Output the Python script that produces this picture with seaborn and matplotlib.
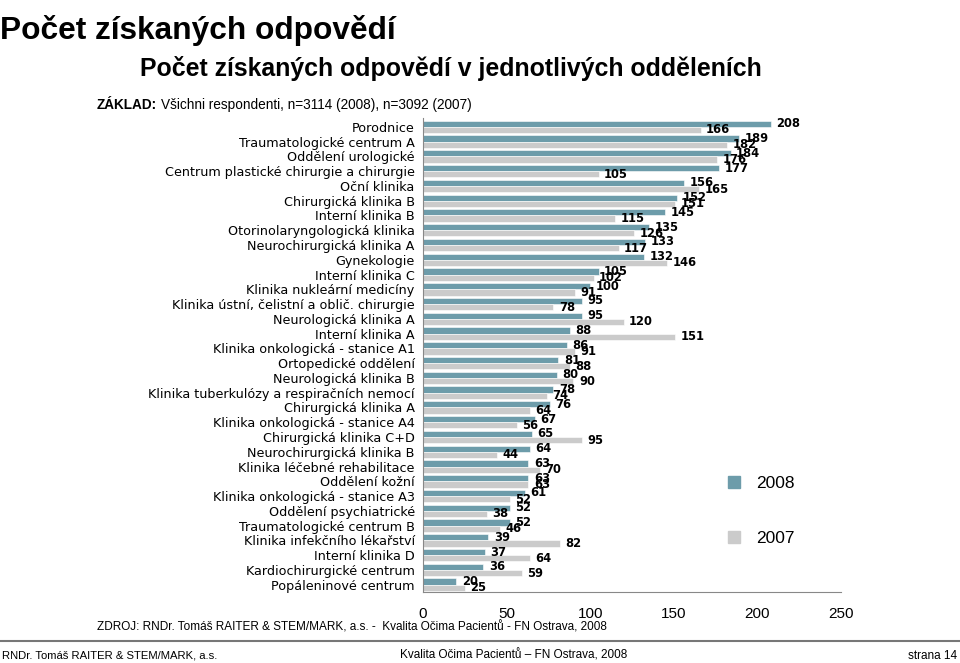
import numpy as np
import pandas as pd
import matplotlib.pyplot as plt
import seaborn as sns
from matplotlib.lines import Line2D

departments = [
    "Porodnice", "Traumatologické centrum A", "Oddělení urologické",
    "Centrum plastické chirurgie a chirurgie", "Oční klinika", "Chirurgická klinika B",
    "Interní klinika B", "Otorinolaryngologická klinika", "Neurochirurgická klinika A",
    "Gynekologie", "Interní klinika C", "Klinika nukleární medicíny",
    "Klinika ústní, čelistní a oblič. chirurgie", "Neurologická klinika A",
    "Interní klinika A", "Klinika onkologická - stanice A1", "Ortopedické oddělení",
    "Neurologická klinika B", "Klinika tuberkulózy a respiračních nemocí",
    "Chirurgická klinika A", "Klinika onkologická - stanice A4", "Chirurgická klinika C+D",
    "Neurochirurgická klinika B", "Klinika léčebné rehabilitace", "Oddělení kožní",
    "Klinika onkologická - stanice A3", "Oddělení psychiatrické",
    "Traumatologické centrum B", "Klinika infekčního lékařství", "Interní klinika D",
    "Kardiochirurgické centrum", "Popáleninové centrum",
]
counts_2008 = [208, 189, 184, 177, 156, 152, 145, 135, 133, 132, 105, 100, 95, 95, 88, 86,
               81, 80, 78, 76, 67, 65, 64, 63, 63, 61, 52, 52, 39, 37, 36, 20]
counts_2007 = [166, 182, 176, 105, 165, 151, 115, 126, 117, 146, 102, 91, 78, 120, 151, 91,
               88, 90, 74, 64, 56, 95, 44, 70, 63, 52, 38, 46, 82, 64, 59, 25]
years = ["2008", "2007"]
x_ticks = [0, 50, 100, 150, 200, 250]

df = pd.DataFrame({
    "oddeleni": departments * 2,
    "rok": ["2008"] * len(departments) + ["2007"] * len(departments),
    "pocet": counts_2008 + counts_2007,
})

sns.set_style("white")
plt.rcParams['font.family'] = ['DejaVu Sans']
plt.rcParams['text.color'] = 'black'
plt.rcParams['xtick.color'] = 'black'
plt.rcParams['ytick.color'] = 'black'
lib = ['Liberation Sans', 'DejaVu Sans']
colors = {"2008": "#6d9caa", "2007": "#cbcbcb"}

fig = plt.figure(figsize=(9.6, 6.63), dpi=100)
ax = fig.add_axes([0.4406, 0.107, 0.4354, 0.715])

sns.barplot(data=df, y="oddeleni", x="pocet", hue="rok", hue_order=years,
            palette=colors, orient="h", width=0.84, ax=ax, legend=False,
            saturation=1, edgecolor="white", linewidth=0.4)

# popisky hodnot za konec sloupce
for cont in ax.containers:
    ax.bar_label(cont, padding=4, fontsize=8.3, fontweight="bold", color="black")

ax.set_xlim(0, 250)
ax.set_ylim(len(departments) - 0.5, -0.6)
ax.set_xticks(x_ticks)
ax.set_xticklabels([str(t) for t in x_ticks], fontsize=11, family=lib)
ax.set_xlabel("")
ax.set_ylabel("")
ax.tick_params(axis="y", length=0, labelsize=9.2, pad=6)
ax.set_yticks(np.arange(-0.5, len(departments), 1), minor=True)
ax.tick_params(axis="y", which="minor", length=4, color="#888888", width=0.8)
ax.tick_params(axis="x", length=4, color="#888888", width=0.8, pad=7)
for s in ["top", "right"]:
    ax.spines[s].set_visible(False)
ax.spines["left"].set_color("#888888")
ax.spines["bottom"].set_color("#888888")

handles = [Line2D([], [], marker="s", linestyle="", markersize=9,
                  markerfacecolor=colors[y], markeredgecolor=colors[y]) for y in years]
fig.legend(handles, years, loc="upper left", bbox_to_anchor=(0.730, 0.306),
           frameon=False, labelspacing=2.3, handletextpad=0.3,
           prop={"family": lib, "size": 12.5})

fig.text(0.000, 0.978, "Počet získaných odpovědí", fontsize=22.8, fontweight="bold",
         family=lib, va="top", ha="left")
fig.text(0.470, 0.897, "Počet získaných odpovědí v jednotlivých odděleních", fontsize=17.9,
         fontweight="bold", family=lib, ha="center", va="center")
t1 = fig.text(0.101, 0.841, "ZÁKLAD:", fontsize=9.8, fontweight="bold", family=lib,
              va="center", ha="left")
fig.draw_without_rendering()
ax.annotate("Všichni respondenti, n=3114 (2008), n=3092 (2007)", xy=(1, 0.5),
            xycoords=t1, xytext=(3, 0), textcoords="offset points", fontsize=9.8,
            family=lib, va="center", ha="left", annotation_clip=False)
fig.text(0.101, 0.054, "ZDROJ: RNDr. Tomáš RAITER & STEM/MARK, a.s. -  Kvalita Očima Pacientů - FN Ostrava, 2008",
         fontsize=8.5, family=lib, va="center", ha="left")
fig.add_artist(Line2D([0, 1], [0.033, 0.033], color="#777777", linewidth=1.5,
                      transform=fig.transFigure))
fig.text(0.002, 0.011, "RNDr. Tomáš RAITER & STEM/MARK, a.s.", fontsize=8.1, family=lib,
         va="center", ha="left")
fig.text(0.535, 0.011, "Kvalita Očima Pacientů – FN Ostrava, 2008", fontsize=8.5,
         family=lib, va="center", ha="center")
fig.text(0.997, 0.011, "strana 14", fontsize=8.5, family=lib, va="center", ha="right")

fig.savefig("out.png", dpi=100)
